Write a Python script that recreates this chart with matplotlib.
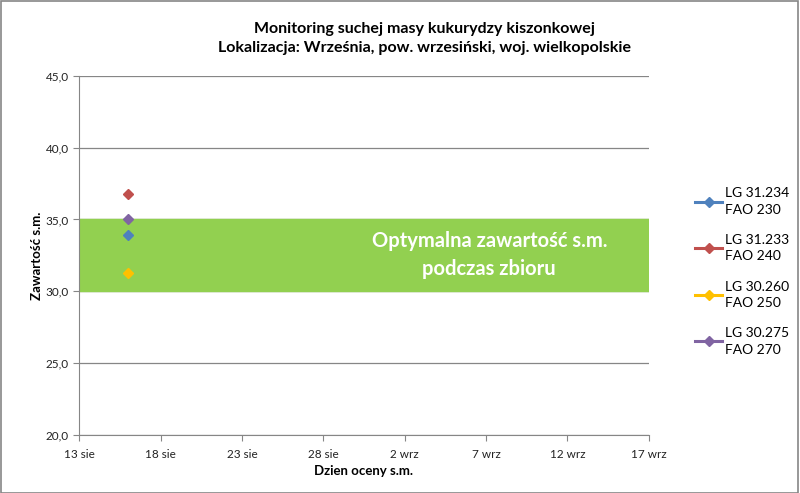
import matplotlib.pyplot as plt
import datetime as dt

plt.rcParams['font.family'] = ['Lato', 'DejaVu Sans']

# dane
tick_labels = ['13 sie', '18 sie', '23 sie', '28 sie', '2 wrz', '7 wrz', '12 wrz', '17 wrz']
tick_dates = [dt.date(2013, 8, 13) + dt.timedelta(days=5 * i) for i in range(8)]
odmiany = ['LG 31.234\nFAO 230', 'LG 31.233\nFAO 240', 'LG 30.260\nFAO 250', 'LG 30.275\nFAO 270']
daty_oceny = [dt.date(2013, 8, 16)]
sucha_masa = [[33.9], [36.8], [31.3], [35.0]]
kolory = ['#4F81BD', '#C0504D', '#FFC000', '#8064A2']
optimum = (30.0, 35.0)

fig = plt.figure(figsize=(8.0, 4.93), dpi=100)
ax = fig.add_axes([0.099, 0.118, 0.712, 0.728])

ax.axhspan(optimum[0], optimum[1], color='#92D050', zorder=1)
ax.text(0.72, (sum(optimum) / 2 - 20) / 25, 'Optymalna zawartość s.m.\npodczas zbioru',
        transform=ax.transAxes, ha='center', va='center', color='white',
        fontsize=14.5, fontweight='bold', linespacing=1.5, zorder=3)

for nazwa, wart, kol in zip(odmiany, sucha_masa, kolory):
    ax.plot(daty_oceny, wart, marker='D', markersize=5, color=kol, lw=2.2, label=nazwa, zorder=4)

ax.set_xlim(tick_dates[0], tick_dates[-1])
ax.set_xticks(tick_dates)
ax.set_xticklabels(tick_labels)
ax.set_ylim(20, 45)
ax.set_yticks(range(20, 46, 5))
ax.set_yticklabels([f'{v},0' for v in range(20, 46, 5)])
ax.yaxis.grid(True, color='#868686', lw=0.9, zorder=0)
ax.set_axisbelow(True)
for s in ['top', 'right']:
    ax.spines[s].set_visible(False)
for s in ['left', 'bottom']:
    ax.spines[s].set_color('#868686')
ax.tick_params(axis='both', colors='#868686', labelcolor='#222222', labelsize=8.5, length=4)
ax.tick_params(axis='x', pad=6)

ax.set_xlabel('Dzien oceny s.m.', fontsize=9.5, fontweight='bold', labelpad=4)
ax.set_ylabel('Zawartość s.m.', fontsize=9.5, fontweight='bold', labelpad=2)
fig.suptitle('Monitoring suchej masy kukurydzy kiszonkowej\nLokalizacja: Września, pow. wrzesiński, woj. wielkopolskie',
             fontsize=11.5, fontweight='bold', y=0.955, x=0.53, linespacing=1.45)

leg = ax.legend(loc='center left', bbox_to_anchor=(1.06, 0.455), frameon=False,
                fontsize=10, handlelength=1.9, labelspacing=1.3, handletextpad=0.25)
for t in leg.get_texts():
    t.set_linespacing(1.45)

fig.patches.append(plt.Rectangle((0.001, 0.001), 0.997, 0.997, transform=fig.transFigure,
                                 fill=False, edgecolor='#868686', lw=1.2))
fig.savefig('out.png', dpi=100)
